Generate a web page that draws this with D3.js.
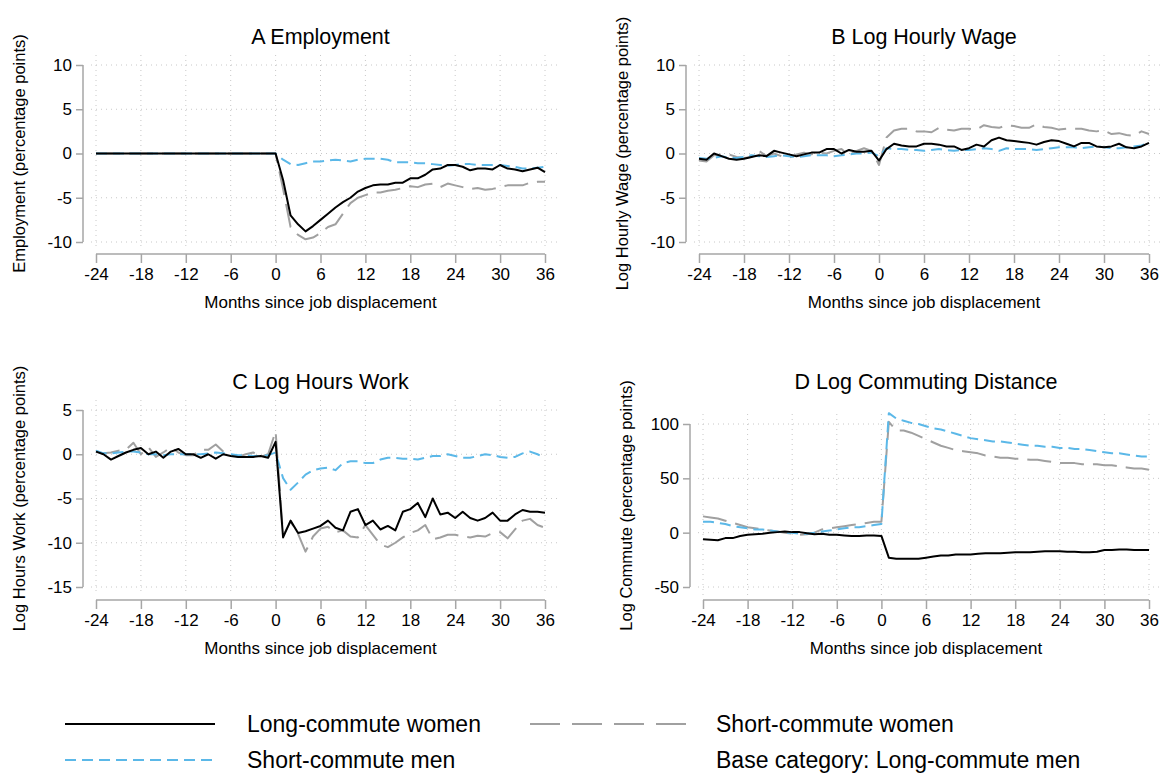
<!DOCTYPE html>
<html><head><meta charset="utf-8">
<script src="https://cdn.jsdelivr.net/npm/d3@7/dist/d3.min.js"></script>
<style>body{margin:0;background:#fff}svg{font-family:Arial,"Liberation Sans",sans-serif}</style>
</head><body><svg id="c" width="1164" height="773"></svg>
<script>
const months = d3.range(-24, 37);
const xTicks = [-24,-18,-12,-6,0,6,12,18,24,30,36];
const zeros25 = new Array(25).fill(0);

const empBlack = zeros25.concat([-3,-7,-8,-8.8,-8.2,-7.5,-6.8,-6.1,-5.5,-5.0,-4.3,-3.9,-3.6,-3.5,-3.5,-3.3,-3.3,-2.8,-2.8,-2.4,-1.8,-1.7,-1.3,-1.3,-1.5,-1.9,-1.7,-1.7,-1.8,-1.3,-1.7,-1.8,-2.0,-1.8,-1.6,-2.1]);
const empGray = zeros25.concat([-4,-8.3,-9.2,-9.7,-9.5,-9.0,-8.3,-8.0,-6.8,-5.6,-5.0,-4.7,-4.4,-4.4,-4.2,-4.1,-3.9,-3.7,-3.8,-3.5,-3.4,-3.8,-3.4,-3.6,-3.8,-4.0,-3.9,-4.1,-4.0,-3.8,-3.6,-3.6,-3.6,-3.3,-3.2,-3.2]);
const empBlue = zeros25.concat([-0.7,-1.2,-1.3,-1.1,-0.9,-0.9,-0.8,-0.7,-0.8,-0.9,-0.7,-0.6,-0.6,-0.6,-0.7,-1.0,-1.0,-1.0,-1.1,-1.1,-1.2,-1.3,-1.4,-1.3,-1.2,-1.2,-1.3,-1.3,-1.3,-1.3,-1.4,-1.5,-1.7,-1.7,-1.6,-1.5]);

const wageBlack = [-0.6,-0.7,0.0,-0.3,-0.6,-0.7,-0.6,-0.4,-0.2,-0.3,0.3,0.1,-0.1,-0.3,-0.1,0.1,0.1,0.5,0.5,0.0,0.4,0.2,0.2,0.3,-0.8,
 0.5,1.1,0.9,0.8,0.8,1.1,1.1,1.0,0.8,0.8,0.4,0.6,1.0,0.8,1.5,1.8,1.5,1.4,1.3,1.2,1.0,1.3,1.5,1.4,1.1,0.8,1.2,1.2,0.8,0.7,0.8,1.1,0.7,0.6,0.8,1.2];
const wageGray = [-0.8,-0.9,-0.2,-0.1,-0.1,-0.4,-0.5,-0.4,0.3,-0.3,0.0,-0.3,-0.5,-0.1,0.1,-0.1,0.1,0.0,0.3,0.5,-0.2,0.3,0.6,0.3,-1.3,
 1.8,2.6,2.8,2.8,2.5,2.5,2.4,2.9,2.7,2.6,2.8,2.8,2.7,3.2,3.0,2.9,3.2,3.1,2.9,2.9,3.3,3.0,2.9,2.7,2.8,2.8,2.8,2.6,2.5,2.6,2.2,2.3,2.1,2.0,2.5,2.2];
const wageBlue = [-0.5,-0.6,-0.5,-0.3,-0.5,-0.5,-0.4,-0.2,-0.3,-0.4,-0.3,-0.2,-0.3,-0.4,-0.3,-0.2,-0.2,-0.2,-0.3,-0.2,-0.1,0.0,0.0,0.1,-0.3,
 0.6,0.5,0.5,0.4,0.4,0.3,0.4,0.5,0.4,0.3,0.4,0.4,0.5,0.6,0.5,0.3,0.6,0.5,0.5,0.5,0.4,0.5,0.6,0.7,0.7,0.7,0.6,0.7,0.8,0.7,0.6,0.6,0.7,0.8,0.9,1.2];

const hoursBlack = [0.3,0.0,-0.6,-0.2,0.2,0.5,0.7,0.0,0.3,-0.4,0.3,0.6,0.0,0.0,-0.4,0.0,-0.5,0.0,-0.2,-0.3,-0.3,-0.3,-0.2,-0.4,1.4,
 -9.4,-7.5,-8.9,-8.7,-8.4,-8.1,-7.5,-8.3,-8.6,-6.5,-6.2,-8.0,-7.5,-8.5,-8.1,-8.6,-6.5,-6.2,-5.5,-7.1,-5.0,-6.8,-6.6,-7.2,-6.5,-7.2,-7.5,-7.2,-6.6,-7.5,-7.5,-6.8,-6.3,-6.5,-6.5,-6.6];
const hoursGray = [0.3,0.1,0.2,0.4,0.5,1.3,0.0,0.8,-0.3,0.2,0.8,0.2,-0.1,-0.1,0.5,0.5,1.1,0.3,0.0,-0.3,0.0,0.2,-0.3,0.0,2.6,
 -9.2,-7.6,-9.0,-11.0,-9.3,-8.4,-8.2,-8.8,-8.6,-9.3,-9.4,-8.0,-9.1,-10.2,-10.5,-10.0,-9.4,-8.9,-8.6,-8.0,-9.6,-9.4,-9.1,-9.1,-9.3,-9.4,-9.2,-9.3,-8.9,-8.8,-9.5,-8.5,-7.5,-7.3,-8.0,-8.3];
const hoursBlue = [0.4,0.1,0.1,0.2,0.3,0.3,0.2,0.0,0.0,-0.1,0.0,0.0,0.0,0.0,0.0,0.1,0.2,0.1,0.0,-0.1,-0.1,-0.2,-0.2,-0.1,0.2,
 -2.7,-4.0,-3.2,-2.3,-1.8,-1.6,-1.5,-1.8,-1.0,-0.8,-0.8,-1.0,-1.0,-0.6,-0.4,-0.4,-0.5,-0.5,-0.6,-0.4,-0.2,-0.2,0.0,-0.2,-0.4,-0.4,-0.2,0.0,-0.1,-0.3,-0.4,-0.3,0.1,0.3,0.0,-0.4];

const commBlack = [-6,-6.5,-7,-5,-5,-3,-2,-1.5,-1,0,0.5,1,0.5,0.5,-0.5,-1.5,-1,-2,-2,-2.5,-3,-3,-2.5,-2.5,-3,
 -23,-24,-24,-24,-24,-23,-22,-21,-21,-20,-20,-20,-19.5,-19,-19,-19,-18.5,-18,-18,-18,-17.5,-17,-17,-17,-17.5,-17.5,-18,-18,-17.5,-16,-16,-15.5,-15.5,-16,-16,-16];
const commGray = [15,14,13,11,9,7,5,4,3,2,1,0,-1,-2,-1.5,0,3,4,5,6,7,8,9,10,10,
 102,94,94,92,89,86,83,80,78,76,75,74,73,71,70,69,69,68,68,67,67,66,65,64,64,64,63,63,63,62,62,61,60,59,59,58];
const commBlue = [10,10,9,8,6,5,4,3,3,2,1,0,0,-1,-1,0,1,2,3,4,5,5,6,7,8,
 110,105,103,101,100,98,96,95,93,91,89,87,86,85,84,84,83,82,81,80,80,79,79,78,78,77,77,76,75,74,73,73,72,71,70,70];

const panels = [
 {title:"A Employment", ylab:"Employment (percentage points)", yd:[-10,10], yt:[-10,-5,0,5,10],
  box:{x0:96,x1:545,spine:83,yTop:65,yBot:242,axisY:254}, s:[empBlack,empGray,empBlue], ty:44},
 {title:"B Log Hourly Wage", ylab:"Log Hourly Wage (percentage points)", yd:[-10,10], yt:[-10,-5,0,5,10],
  box:{x0:699,x1:1149,spine:686,yTop:65,yBot:242,axisY:254}, s:[wageBlack,wageGray,wageBlue], ty:44},
 {title:"C Log Hours Work", ylab:"Log Hours Work (percentage points)", yd:[-15,5], yt:[-15,-10,-5,0,5],
  box:{x0:96,x1:545,spine:83,yTop:410,yBot:587,axisY:600}, s:[hoursBlack,hoursGray,hoursBlue], ty:389},
 {title:"D Log Commuting Distance", ylab:"Log Commute (percentage points)", yd:[-50,100], yt:[-50,0,50,100],
  box:{x0:703,x1:1149,spine:690,yTop:424,yBot:587,axisY:600}, s:[commBlack,commGray,commBlue], ty:389}
];
const styles = [
 {c:"#000", w:2, d:null},
 {c:"#a0a0a0", w:2, d:"24,9"},
 {c:"#5bb8e8", w:2, d:"11,6"}
];
const svg = d3.select("#c");
const grid = "#c8c8c8";
const fmt = d => String(d);
panels.forEach(p=>{
  const b=p.box;
  const x=d3.scaleLinear().domain([-24,36]).range([b.x0,b.x1]);
  const y=d3.scaleLinear().domain(p.yd).range([b.yBot,b.yTop]);
  const g=svg.append("g");
  const gTop = b.yTop-10, gBot=b.yBot+8;
  xTicks.forEach(t=>g.append("line").attr("x1",x(t)).attr("x2",x(t)).attr("y1",gTop).attr("y2",gBot)
    .attr("stroke",grid).attr("stroke-dasharray","1,4"));
  p.yt.forEach(t=>g.append("line").attr("x1",b.spine+8).attr("x2",b.x1+12).attr("y1",y(t)).attr("y2",y(t))
    .attr("stroke",grid).attr("stroke-dasharray","1,4"));
  const ya=g.append("g").attr("transform",`translate(${b.spine},0)`)
    .call(d3.axisLeft(y).tickValues(p.yt).tickFormat(fmt).tickSize(7).tickPadding(4));
  ya.select(".domain").attr("d",`M0,${y(p.yd[0])}V${y(p.yd[1])}`);
  const xa=g.append("g").attr("transform",`translate(0,${b.axisY})`)
    .call(d3.axisBottom(x).tickValues(xTicks).tickFormat(fmt).tickSize(9).tickPadding(5));
  xa.select(".domain").attr("d",`M${b.x0},0H${b.x1}`);
  [ya,xa].forEach(a=>{a.selectAll("line,path").attr("stroke","#a6a6a6").attr("stroke-width",1.5);
    a.selectAll("text").attr("font-size",17).attr("fill","#000");});
  g.append("text").attr("x",(b.x0+b.x1)/2).attr("y",p.ty).attr("text-anchor","middle").attr("font-size",21.5).text(p.title);
  g.append("text").attr("x",(b.x0+b.x1)/2).attr("y",b.axisY+54).attr("text-anchor","middle").attr("font-size",17).text("Months since job displacement");
  g.append("text").attr("transform",`translate(${b.spine-58},${(b.yTop+b.yBot)/2}) rotate(-90)`).attr("text-anchor","middle").attr("font-size",16.5).text(p.ylab);
  const line=d3.line().x((d,i)=>x(months[i])).y(d=>y(d));
  [1,2,0].forEach(k=>{
    const st=styles[k];
    g.append("path").datum(p.s[k]).attr("d",line).attr("fill","none").attr("stroke",st.c)
      .attr("stroke-width",st.w).attr("stroke-dasharray",st.d).attr("stroke-linejoin","round");
  });
});
const leg=[
 {k:0,x:65,y:724,t:"Long-commute women"},
 {k:1,x:530,y:724,t:"Short-commute women"},
 {k:2,x:65,y:760,t:"Short-commute men"}
];
leg.forEach(l=>{
  const st=styles[l.k];
  svg.append("line").attr("x1",l.x).attr("x2",l.x+(l.k==1?160:150)).attr("y1",l.y).attr("y2",l.y)
   .attr("stroke",st.c).attr("stroke-width",st.w).attr("stroke-dasharray",l.k==1?"30,12":st.d);
  svg.append("text").attr("x",l.k==1?716:247).attr("y",l.y+8).attr("font-size",23).text(l.t);
});
svg.append("text").attr("x",716).attr("y",768).attr("font-size",23).text("Base category: Long-commute men");
</script></body></html>
